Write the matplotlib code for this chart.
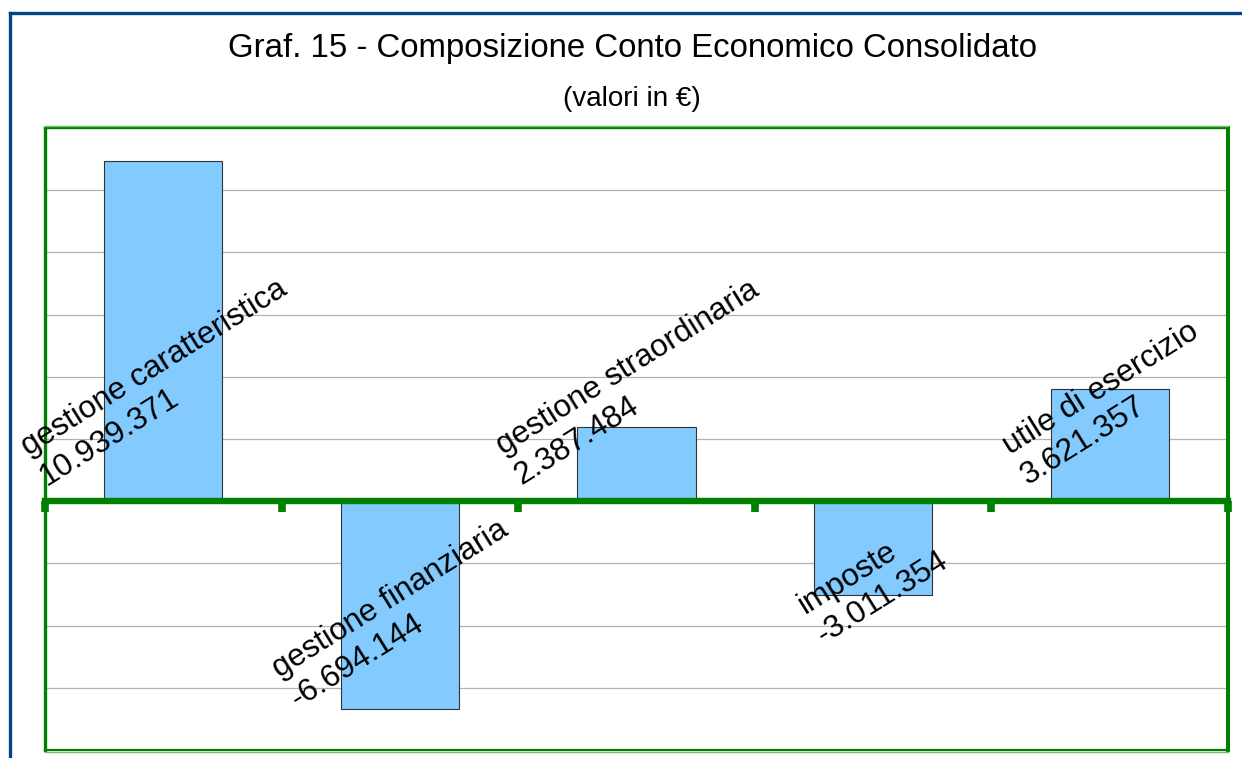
import matplotlib
matplotlib.use("Agg")
import matplotlib.pyplot as plt
from matplotlib.lines import Line2D

# Income statement components (euro)
categories = [
    "gestione caratteristica",
    "gestione finanziaria",
    "gestione straordinaria",
    "imposte",
    "utile di esercizio",
]
values = [10939371, -6694144, 2387484, -3011354, 3621357]

title = "Graf. 15 - Composizione Conto Economico Consolidato"
subtitle = "(valori in €)"

y_min, y_max, y_step = -8_000_000, 12_000_000, 2_000_000

# vertical shift (pixels) of each data label from the end of its bar
label_shift = [-222, 95, 44, 12, -15]

W, H, DPI = 1242, 758, 100
FONT = "Liberation Sans"
GREEN = "#008000"
LIGHT_GREEN = "#6fbf6f"
BAR = "#83caff"
FRAME_BLUE = "#004586"

fig = plt.figure(figsize=(W / DPI, H / DPI), dpi=DPI)
fig.patch.set_facecolor("white")

px_x = lambda p: p / W
px_y = lambda p: 1 - p / H

ax = fig.add_axes([px_x(45), px_y(750), (1228 - 45) / W, (750 - 128) / H])
ax.set_facecolor("white")

x = list(range(len(categories)))
ax.bar(x, values, width=0.5, color=BAR, edgecolor="#333333", linewidth=0.8, zorder=2)

ax.set_xlim(-0.5, len(categories) - 0.5)
ax.set_ylim(y_min, y_max)

# horizontal grid every 2 million, no value labels
ax.set_yticks(range(y_min, y_max + 1, y_step))
ax.yaxis.grid(True, color="#b3b3b3", linewidth=0.9, zorder=0)
ax.set_axisbelow(True)
ax.tick_params(axis="y", left=False, labelleft=False)

# category axis sits on zero, with tick marks between categories
ax.spines["bottom"].set_position(("data", 0))
ax.spines["bottom"].set_color(GREEN)
ax.spines["bottom"].set_linewidth(4.6)
ax.set_xticks([i - 0.5 for i in range(len(categories) + 1)])
ax.set_xticklabels([])
ax.tick_params(axis="x", direction="out", length=8, width=5.5, color=GREEN)

ax.spines["left"].set_color(GREEN)
ax.spines["left"].set_linewidth(2.4)
ax.spines["right"].set_color(GREEN)
ax.spines["right"].set_linewidth(2.9)
ax.spines["top"].set_visible(False)

# double-line top and bottom edges of the plot area
for yy, sign in ((0.0, -1), (1.0, 1)):
    ax.add_line(Line2D([0, 1], [yy, yy], transform=ax.transAxes, color=GREEN,
                       linewidth=1.6, clip_on=False, zorder=3))
    off = sign * 2.2 / (750 - 128)
    ax.add_line(Line2D([0, 1], [yy + off, yy + off], transform=ax.transAxes,
                       color=LIGHT_GREEN, linewidth=1.0, clip_on=False, zorder=3))

# data labels
for i, (cat, val, dy) in enumerate(zip(categories, values, label_shift)):
    txt = f"{val:,}".replace(",", ".")
    ax.annotate(f"{cat}\n{txt}", xy=(i, val), xytext=(0, dy),
                textcoords="offset pixels", ha="center", va="center",
                rotation=32, rotation_mode="anchor", multialignment="left",
                fontsize=22.7, family=FONT, color="black",
                annotation_clip=False, zorder=5)

# titles
fig.text(px_x(632), px_y(57), title, ha="center", va="baseline",
         fontsize=23.8, family=FONT, color="black")
fig.text(px_x(632), px_y(106.5), subtitle, ha="center", va="baseline",
         fontsize=20, family=FONT, color="black")

# outer blue frame (left and top edges visible)
fig.add_artist(Line2D([px_x(10), px_x(10)], [0, px_y(13.3)], transform=fig.transFigure,
                      color=FRAME_BLUE, linewidth=2.4, solid_capstyle="projecting"))
fig.add_artist(Line2D([px_x(10), 1.0], [px_y(13.3), px_y(13.3)], transform=fig.transFigure,
                      color=FRAME_BLUE, linewidth=2.4, solid_capstyle="projecting"))

fig.savefig("out.png", dpi=DPI, facecolor="white")
